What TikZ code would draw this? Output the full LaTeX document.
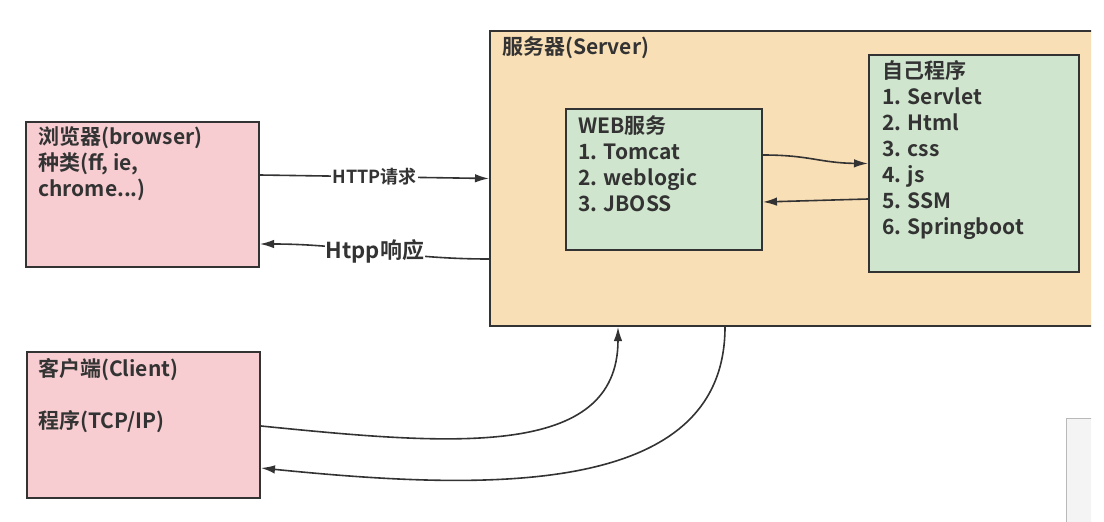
\documentclass[tikz,border=0pt]{standalone}
\usepackage{fontspec}
\setmainfont{Noto Sans CJK SC}[BoldFont={Noto Sans CJK SC Bold}]
\usepackage{tikz}
\usetikzlibrary{arrows.meta}

\definecolor{boxline}{HTML}{333333}
\definecolor{pinkfill}{HTML}{F7CDD1}
\definecolor{servfill}{HTML}{F9DFB5}
\definecolor{greenfill}{HTML}{CFE5CD}
\definecolor{panelfill}{HTML}{F4F4F4}

\begin{document}
\begin{tikzpicture}[x=1pt, y=-1pt,
  box/.style={draw=boxline, line width=2pt, inner sep=0pt},
  txt/.style={anchor=north west, align=left, inner sep=0pt, text=boxline,
    font=\bfseries\fontsize{21}{26}\selectfont},
  conn/.style={draw=boxline, line width=1.6pt, -{Latex[length=14pt,width=8.5pt]}},
  lbl/.style={fill=white, inner sep=1pt, text=boxline}]
\newcommand{\Cutx}{1091}; % right edge of the screenshot

\useasboundingbox (0,0) rectangle (1104,522);

\begin{scope}
\clip (0,0) rectangle (\Cutx,522);

% screenshot panel at the lower right
\fill[panelfill] (1066,418) rectangle (1100,530);
\draw[gray!55, line width=1pt] (1066,530) -- (1066,418) -- (1100,418);

% server
\node[box, fill=servfill, minimum width=606pt, minimum height=295pt] (server) at (793,178.5) {};
\node[txt] (srvtxt) at (502,36) {服务器(Server)};

% web service and own program
\node[box, fill=greenfill, minimum width=196pt, minimum height=141pt] (web) at (664,179.5) {};
\node[txt] (webtxt) at (578,115) {WEB服务\\1. Tomcat\\2. weblogic\\3. JBOSS};

\node[box, fill=greenfill, minimum width=210pt, minimum height=217pt] (app) at (974,163.5) {};
\node[txt] (apptxt) at (882,60) {自己程序\\1. Servlet\\2. Html\\3. css\\4. js\\5. SSM\\6. Springboot};

% browser and client
\node[box, fill=pinkfill, minimum width=233pt, minimum height=145pt] (browser) at (142.5,194.5) {};
\node[txt] (brwtxt) at (38,126) {浏览器(browser)\\种类(ff, ie,\\chrome...)};

\node[box, fill=pinkfill, minimum width=233pt, minimum height=146pt] (client) at (143.5,425) {};
\node[txt] (clitxt) at (38,358) {客户端(Client)\\[26pt]程序(TCP/IP)};

% http
\draw[conn] ([yshift=19.5pt]browser.east) -- node[lbl, font=\bfseries\fontsize{18}{20}\selectfont] (req) {HTTP请求} (server.west);
\draw[conn] ([yshift=-80.5pt]server.west) .. controls (400,259) and (350,244) .. node[lbl, font=\bfseries\fontsize{22}{24}\selectfont] (resp) {Htpp响应} ([yshift=-49.5pt]browser.east);

% inside the server
\draw[conn] ([yshift=24.5pt]web.east) .. controls (810,155) and (820,163) .. (app.west);
\draw[conn] ([yshift=-35.5pt]app.west) -- ([yshift=-22.5pt]web.east);

% tcp/ip
\draw[conn] ([yshift=-1pt]client.east) .. controls (450,445) and (618,460) .. ([xshift=-175pt]server.south);
\draw[conn] ([xshift=-68pt]server.south) .. controls (725,500) and (480,490) .. ([yshift=-43pt]client.east);
\end{scope}
\end{tikzpicture}
\end{document}
